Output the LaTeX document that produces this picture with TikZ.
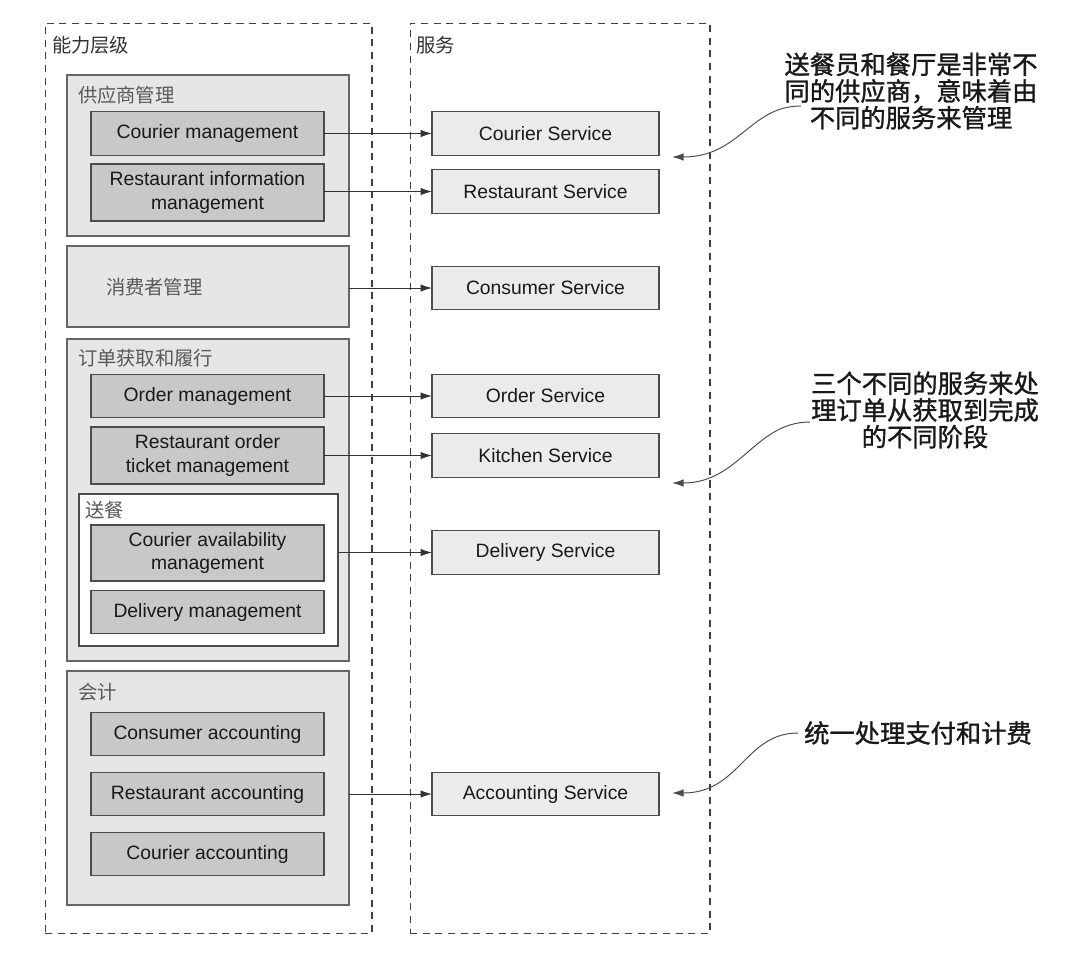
\documentclass[tikz,border=0pt]{standalone}
\usepackage{fontspec}
\setmainfont{Liberation Sans}
\newfontfamily\cjk{Noto Sans CJK SC}
\newfontfamily\cjkheavy[FakeBold=1.2]{Noto Sans CJK SC}
\usetikzlibrary{arrows.meta}

\definecolor{groupgray}{HTML}{E6E6E6}
\definecolor{capgray}{HTML}{C8C8C8}
\definecolor{servicegray}{HTML}{EBEBEB}

\begin{document}
\begin{tikzpicture}[
x=0.02cm, y=-0.02cm,
every node/.style={outer sep=0pt},
area/.style={draw=black!75, line width=0.6pt, dash pattern=on 4pt off 3.2pt, minimum height=18.22cm},
group/.style={draw=black!60, line width=0.8pt, fill=groupgray, minimum width=5.64cm},
capbox/.style={draw=black!70, line width=0.8pt, fill=capgray, align=center, minimum width=4.66cm, minimum height=0.87cm, text=black!90, font=\fontsize{11}{13.5}\selectfont},
service/.style={draw=black!70, line width=0.8pt, fill=servicegray, minimum width=4.54cm, minimum height=0.87cm, text=black!90, font=\fontsize{11}{13.5}\selectfont},
tag/.style={anchor=west, inner sep=0pt, text=black!65, font=\cjk\fontsize{11}{13}\selectfont},
note/.style={align=center, inner sep=0pt, text=black!90, font=\cjkheavy\fontsize{14.4}{15.2}\selectfont},
arrow/.style={-{Latex[length=2.3mm,width=1.5mm]}, line width=0.55pt, draw=black!80},
remark/.style={-{Latex[length=2.3mm,width=1.5mm]}, line width=0.55pt, draw=black!70}
]

\fill[white] (0,0) rectangle (1081,974);
\useasboundingbox (0,0) rectangle (1081,974);

\node[area, minimum width=6.54cm] (levels) at (208.5,478.5) {};
\node[area, minimum width=6.0cm] (services) at (560,478.5) {};
\node[tag, text=black!80] (levelslbl) at (52,45) {能力层级};
\node[tag, text=black!80] (serviceslbl) at (416,45) {服务};

\node[group, minimum height=3.22cm] (supplier) at (208,155.5) {};
\node[tag] (supplierlbl) at (78,95) {供应商管理};
\node[capbox] (courier) at (207.5,133.5) {Courier management};
\node[capbox, minimum height=1.14cm] (restinfo) at (207.5,192.5) {Restaurant information\\management};

\node[group, minimum height=1.62cm] (consumer) at (208,286.5) {};
\node[tag] (consumerlbl) at (106,287) {消费者管理};

\node[group, minimum height=6.44cm] (order) at (208,500) {};
\node[tag] (orderlbl) at (78,358) {订单获取和履行};
\node[capbox] (ordermgmt) at (207.5,396) {Order management};
\node[capbox, minimum height=1.14cm] (ticket) at (207.5,455.5) {Restaurant order\\ticket management};
\node[draw=black!70, line width=0.8pt, fill=white, minimum width=5.18cm, minimum height=3.04cm] (delivery) at (208.5,570) {};
\node[tag] (deliverylbl) at (85,510) {送餐};
\node[capbox, minimum height=1.12cm] (availability) at (207.5,553) {Courier availability\\management};
\node[capbox] (delivmgmt) at (207.5,612) {Delivery management};

\node[group, minimum height=4.68cm] (accounting) at (208,788) {};
\node[tag] (accountinglbl) at (78,692) {会计};
\node[capbox] (consacct) at (207.5,734) {Consumer accounting};
\node[capbox] (restacct) at (207.5,794) {Restaurant accounting};
\node[capbox] (couracct) at (207.5,854) {Courier accounting};

\node[service] (courierservice) at (545.5,133.5) {Courier Service};
\node[service] (restservice) at (545.5,191.5) {Restaurant Service};
\node[service] (consservice) at (545.5,288) {Consumer Service};
\node[service] (orderservice) at (545.5,396) {Order Service};
\node[service] (kitchenservice) at (545.5,455.5) {Kitchen Service};
\node[service] (delivservice) at (545.5,552.5) {Delivery Service};
\node[service] (acctservice) at (545.5,794) {Accounting Service};

\draw[arrow] (courier) -- (courierservice);
\draw[arrow] (restinfo.east |- restservice.west) -- (restservice);
\draw[arrow] (consumer.east |- consservice.west) -- (consservice);
\draw[arrow] (ordermgmt) -- (orderservice);
\draw[arrow] (ticket) -- (kitchenservice);
\draw[arrow] (delivery.east |- delivservice.west) -- (delivservice);
\draw[arrow] (accounting.east |- acctservice.west) -- (acctservice);

\node[note] (note1) at (911,91) {送餐员和餐厅是非常不\\同的供应商，意味着由\\不同的服务来管理};
\node[note] (note2) at (925,410) {三个不同的服务来处\\理订单从获取到完成\\的不同阶段};
\node[note] (note3) at (918,733) {统一处理支付和计费};

\coordinate (note1start) at (801,106);
\coordinate (note1end) at (672,157);
\coordinate (note2start) at (810,422);
\coordinate (note2end) at (672,483);
\coordinate (note3start) at (798,733);
\coordinate (note3end) at (672,793);

\draw[remark] (note1start) .. controls (750,106) and (740,157) .. (note1end);
\draw[remark] (note2start) .. controls (755,422) and (740,483) .. (note2end);
\draw[remark] (note3start) .. controls (745,733) and (740,793) .. (note3end);

\end{tikzpicture}
\end{document}
